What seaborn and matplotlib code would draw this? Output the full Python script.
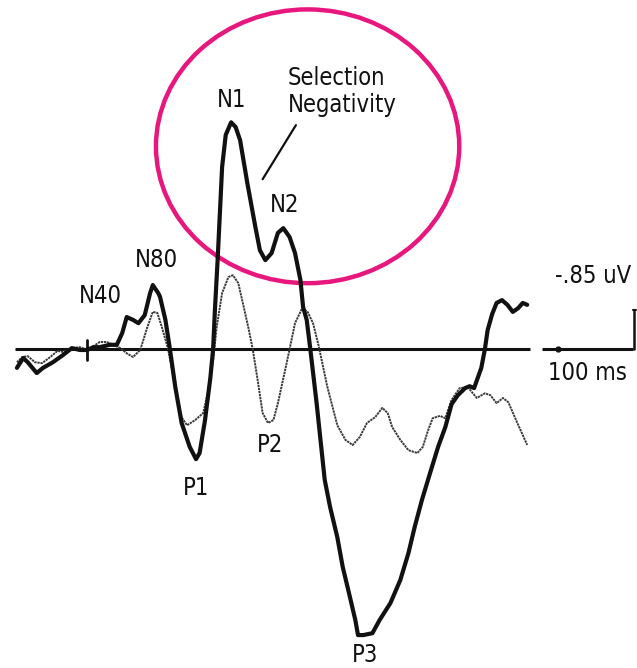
import numpy as np
import pandas as pd
import matplotlib
matplotlib.use("Agg")
import matplotlib.pyplot as plt
from matplotlib.patches import Ellipse
import seaborn as sns

# Grand-average ERP waveforms (time in ms, amplitude in uV, negative plotted up)
attended_ms = [-79, -72, -67, -57, -50, -39, -28, -18, -9, -1, 6, 13, 24, 32, 38, 43, 50, 56,
               63, 69, 72, 78, 80, 86, 91, 97, 104, 113, 120, 124, 130, 136, 139, 141, 144,
               149, 153, 159, 164, 169, 177, 186, 191, 197, 204, 211, 217, 224, 230, 236, 239,
               243, 247, 254, 263, 269, 277, 283, 291, 297, 300, 306, 316, 324, 336, 347, 356,
               363, 371, 380, 389, 397, 404, 411, 419, 424, 429, 437, 441, 444, 449, 454, 460,
               466, 472, 478, 483, 488]
attended_uv = [0.40, 0.19, 0.28, 0.51, 0.40, 0.28, 0.13, -0.02, 0.02, 0.02, -0.04, -0.04,
               -0.09, -0.09, -0.34, -0.68, -0.62, -0.55, -0.72, -1.19, -1.36, -1.19, -1.11,
               -0.62, 0.00, 0.81, 1.57, 2.08, 2.34, 2.21, 1.51, 0.60, 0.00, -0.83, -1.89,
               -3.87, -4.55, -4.82, -4.72, -4.44, -3.53, -2.59, -2.10, -1.89, -2.04, -2.47,
               -2.57, -2.38, -2.04, -1.47, -0.89, -0.62, 0.00, 1.15, 2.78, 3.36, 4.00, 4.63,
               5.27, 5.76, 6.08, 6.08, 6.04, 5.76, 5.40, 4.91, 4.34, 3.78, 3.21, 2.64, 2.08,
               1.66, 1.17, 0.98, 0.83, 0.79, 0.83, 0.40, 0.00, -0.40, -0.74, -0.98, -1.04,
               -0.94, -0.79, -0.87, -0.98, -0.94]

unattended_ms = [-79, -73, -67, -59, -51, -42, -34, -28, -18, -9, -1, 6, 13, 21, 28, 36, 43,
                 50, 58, 66, 72, 77, 82, 89, 97, 104, 110, 119, 128, 133, 139, 143, 149, 156,
                 161, 167, 172, 178, 183, 189, 194, 200, 206, 211, 219, 224, 230, 238, 244,
                 250, 256, 266, 277, 286, 294, 302, 310, 319, 327, 333, 338, 347, 356, 366,
                 372, 378, 383, 391, 397, 404, 413, 422, 432, 441, 447, 454, 461, 467, 477, 488]
unattended_uv = [0.28, 0.17, 0.15, 0.28, 0.30, 0.17, 0.04, 0.06, -0.02, -0.04, 0.02, -0.06,
                 -0.15, -0.15, -0.09, -0.02, 0.09, 0.17, 0.02, -0.47, -0.79, -0.77, -0.47,
                 0.00, 0.81, 1.45, 1.62, 1.51, 1.36, 0.94, 0.23, -0.47, -1.19, -1.53, -1.57,
                 -1.40, -0.98, -0.47, 0.00, 0.72, 1.36, 1.57, 1.51, 1.15, 0.45, 0.00, -0.55,
                 -0.87, -0.79, -0.55, -0.09, 0.81, 1.62, 1.93, 2.04, 1.87, 1.57, 1.45, 1.25,
                 1.36, 1.66, 1.93, 2.15, 2.21, 2.08, 1.72, 1.47, 1.42, 1.47, 1.08, 0.83, 0.81,
                 1.04, 0.94, 0.98, 1.15, 1.04, 1.13, 1.57, 2.04]

# Component labels: (text, time ms, amplitude uV)
peak_labels = ["N40", "N80", "N1", "N2", "P1", "P2", "P3"]
peak_ms = [14, 76, 160, 219, 120, 202, 308]
peak_uv = [-1.13, -1.89, -5.29, -3.06, 2.95, 2.04, 6.50]

scale_uv = -0.85
scale_ms = 100

attended = pd.DataFrame({"time": attended_ms, "amp": attended_uv})
unattended = pd.DataFrame({"time": unattended_ms, "amp": unattended_uv})

sns.set_style("white")
plt.rcParams["font.family"] = ["DejaVu Sans"]

fig = plt.figure(figsize=(6.37, 6.68), dpi=100)
ax = fig.add_axes([0, 0, 1, 1])
ax.set_xlim(-97.8, 610)
ax.set_ylim(6.78, -7.42)  # negative up
ax.axis("off")

ink = "#111111"
font = dict(fontsize=17, fontstretch="condensed", color=ink)

# Baseline and stimulus onset tick
ax.plot([-81, 491], [0, 0], color=ink, lw=2.2, solid_capstyle="butt")
ax.plot([-1, -1], [-0.19, 0.23], color=ink, lw=2.0)

sns.lineplot(data=unattended, x="time", y="amp", ax=ax, sort=False, color="#3a3a3a",
             lw=1.4, linestyle=(0, (1.2, 0.4)), estimator=None)
sns.lineplot(data=attended, x="time", y="amp", ax=ax, sort=False, color=ink,
             lw=3.0, estimator=None, solid_joinstyle="round", solid_capstyle="round")

for lab, t, v in zip(peak_labels, peak_ms, peak_uv):
    ax.text(t, v, lab, ha="center", va="center", **font)

# Selection negativity callout
ax.text(222, -5.48, "Selection\nNegativity", ha="left", va="center",
        linespacing=1.15, **font)
ax.plot([231, 194], [-4.76, -3.61], color=ink, lw=1.6)
ax.add_patch(Ellipse((244, -4.31), 337, 5.82, fill=False, edgecolor="#E8177D", lw=3.2))

# Calibration bars
ax.plot([504, 606], [0, 0], color=ink, lw=2.2, solid_capstyle="butt")
ax.plot([522], [0], marker="o", ms=3.5, color=ink)
ax.plot([607, 607], [0, scale_uv * 0.98], color=ink, lw=1.8)
ax.plot([605, 609], [scale_uv * 0.98, scale_uv * 0.98], color=ink, lw=1.5)
ax.text(519, -1.55, f"{scale_uv:g}".replace("-0.", "-.") + " uV", ha="left", va="center", **font)
ax.text(511, 0.51, f"{scale_ms} ms", ha="left", va="center", **font)

fig.savefig("out.png", dpi=100)
